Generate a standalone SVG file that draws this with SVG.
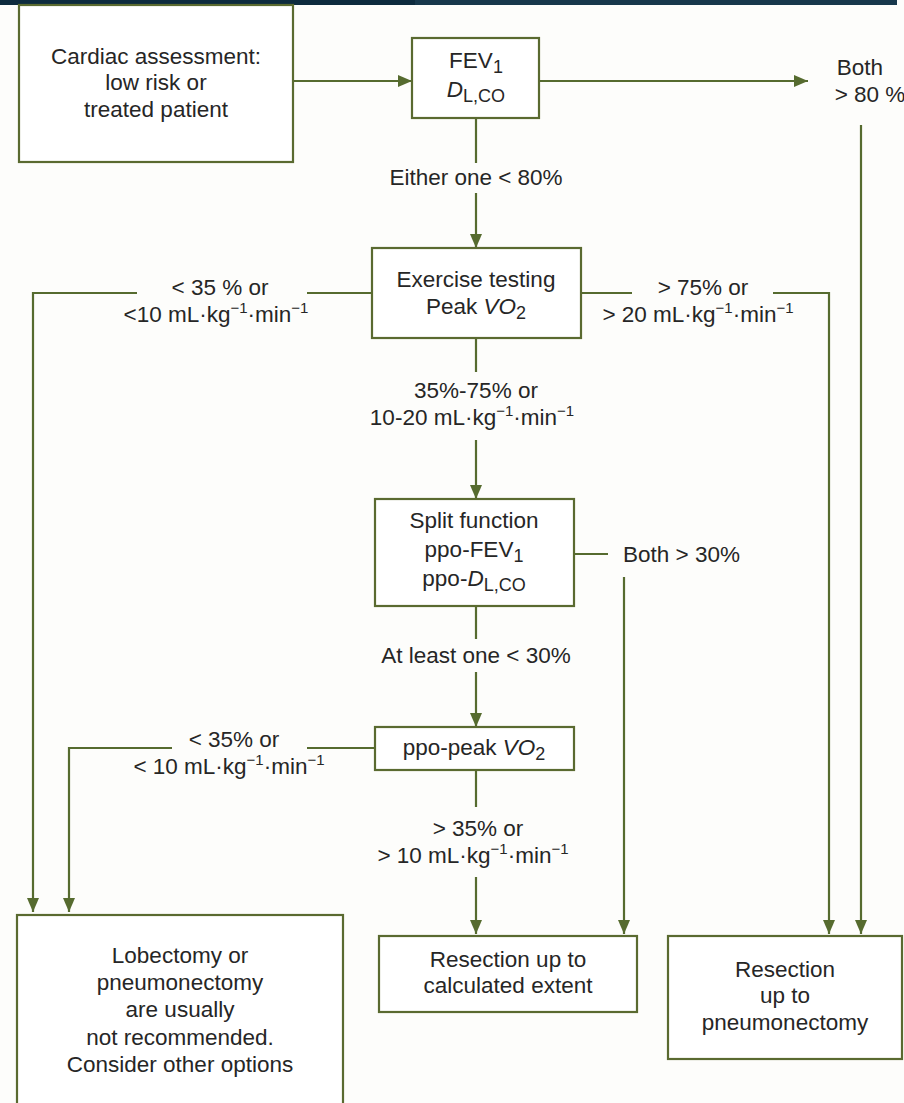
<svg xmlns="http://www.w3.org/2000/svg" width="904" height="1103" viewBox="0 0 904 1103">
<style>
.box{fill:#ffffff;stroke:#5a6a30;stroke-width:2.2}
.ln{fill:none;stroke:#566b2f;stroke-width:2.2}
.t{font-family:"Liberation Sans",Arial,Helvetica,sans-serif;font-size:22.5px;fill:#262626;text-anchor:middle}
.s{font-size:15px}
.b{font-size:18px}
.i{font-style:italic}
</style>
<defs>
<marker id="ah" viewBox="0 0 14 12" refX="14" refY="6" markerWidth="14" markerHeight="12" markerUnits="userSpaceOnUse" orient="auto">
<path d="M0,0 L14,6 L0,12 z" fill="#566b2f"/>
</marker>
</defs>
<rect x="0" y="0" width="904" height="1103" fill="#fdfdfb"/>
<rect x="0" y="0" width="415" height="5" fill="#0d2b3e"/>
<rect x="415" y="0" width="482" height="5" fill="#17384c"/>

<g id="connectors">
<line class="ln" x1="293" y1="81" x2="412" y2="81" marker-end="url(#ah)"/>
<line class="ln" x1="539" y1="81" x2="808" y2="81" marker-end="url(#ah)"/>
<line class="ln" x1="861" y1="125" x2="861" y2="934" marker-end="url(#ah)"/>
<line class="ln" x1="476" y1="118" x2="476" y2="163"/>
<line class="ln" x1="476" y1="193" x2="476" y2="248" marker-end="url(#ah)"/>
<line class="ln" x1="372" y1="293" x2="307" y2="293"/>
<polyline class="ln" points="137,293 33,293 33,912" marker-end="url(#ah)"/>
<line class="ln" x1="581" y1="293" x2="632" y2="293"/>
<polyline class="ln" points="773,293 829,293 829,934" marker-end="url(#ah)"/>
<line class="ln" x1="476" y1="338" x2="476" y2="372"/>
<line class="ln" x1="476" y1="440" x2="476" y2="499" marker-end="url(#ah)"/>
<line class="ln" x1="574" y1="554" x2="608" y2="554"/>
<line class="ln" x1="624" y1="577" x2="624" y2="934" marker-end="url(#ah)"/>
<line class="ln" x1="476" y1="606" x2="476" y2="639"/>
<line class="ln" x1="476" y1="672" x2="476" y2="727" marker-end="url(#ah)"/>
<line class="ln" x1="375" y1="748" x2="307" y2="748"/>
<polyline class="ln" points="172,748 69,748 69,912" marker-end="url(#ah)"/>
<line class="ln" x1="476" y1="770" x2="476" y2="807"/>
<line class="ln" x1="476" y1="877" x2="476" y2="934" marker-end="url(#ah)"/>
</g>

<g id="labels">
<text class="t" x="476" y="185">Either one &lt; 80%</text>
<text class="t" x="860" y="75">Both</text>
<text class="t" x="870" y="102">&gt; 80 %</text>
<text class="t" x="220" y="295">&lt; 35 % or</text>
<text class="t" x="216" y="322">&lt;10 mL·kg<tspan class="s" dy="-9">−1</tspan><tspan dy="9">·min</tspan><tspan class="s" dy="-9">−1</tspan></text>
<text class="t" x="703" y="295">&gt; 75% or</text>
<text class="t" x="698" y="322">&gt; 20 mL·kg<tspan class="s" dy="-9">−1</tspan><tspan dy="9">·min</tspan><tspan class="s" dy="-9">−1</tspan></text>
<text class="t" x="476" y="398">35%-75% or</text>
<text class="t" x="472" y="425">10-20 mL·kg<tspan class="s" dy="-9">−1</tspan><tspan dy="9">·min</tspan><tspan class="s" dy="-9">−1</tspan></text>
<text class="t" x="623" y="562" style="text-anchor:start">Both &gt; 30%</text>
<text class="t" x="476" y="663">At least one &lt; 30%</text>
<text class="t" x="234" y="747">&lt; 35% or</text>
<text class="t" x="229" y="774">&lt; 10 mL·kg<tspan class="s" dy="-9">−1</tspan><tspan dy="9">·min</tspan><tspan class="s" dy="-9">−1</tspan></text>
<text class="t" x="478" y="836">&gt; 35% or</text>
<text class="t" x="473" y="863">&gt; 10 mL·kg<tspan class="s" dy="-9">−1</tspan><tspan dy="9">·min</tspan><tspan class="s" dy="-9">−1</tspan></text>
</g>

<g id="cardiac">
<rect class="box" x="19" y="5" width="274" height="157"/>
<text class="t" x="156" y="64">Cardiac assessment:</text>
<text class="t" x="156" y="90">low risk or</text>
<text class="t" x="156" y="117">treated patient</text>
</g>

<g id="fev">
<rect class="box" x="412" y="38" width="127" height="80"/>
<text class="t" x="476" y="68">FEV<tspan class="b" dy="5">1</tspan></text>
<text class="t" x="476" y="97"><tspan class="i">D</tspan><tspan class="b" dy="5">L,CO</tspan></text>
</g>

<g id="exercise">
<rect class="box" x="372" y="248" width="209" height="90"/>
<text class="t" x="476" y="287">Exercise testing</text>
<text class="t" x="476" y="314">Peak <tspan class="i">VO</tspan><tspan class="b" dy="5">2</tspan></text>
</g>

<g id="split">
<rect class="box" x="375" y="499" width="199" height="107"/>
<text class="t" x="474" y="528">Split function</text>
<text class="t" x="474" y="557">ppo-FEV<tspan class="b" dy="5">1</tspan></text>
<text class="t" x="474" y="586">ppo-<tspan class="i">D</tspan><tspan class="b" dy="5">L,CO</tspan></text>
</g>

<g id="ppo-peak">
<rect class="box" x="375" y="727" width="199" height="43"/>
<text class="t" x="474" y="755">ppo-peak <tspan class="i">VO</tspan><tspan class="b" dy="5">2</tspan></text>
</g>

<g id="lobectomy">
<rect class="box" x="17" y="915" width="326" height="200"/>
<text class="t" x="180" y="963">Lobectomy or</text>
<text class="t" x="180" y="990">pneumonectomy</text>
<text class="t" x="180" y="1017">are usually</text>
<text class="t" x="180" y="1045">not recommended.</text>
<text class="t" x="180" y="1072">Consider other options</text>
</g>

<g id="calculated">
<rect class="box" x="379" y="936" width="258" height="76"/>
<text class="t" x="508" y="967">Resection up to</text>
<text class="t" x="508" y="993">calculated extent</text>
</g>

<g id="pneumonectomy">
<rect class="box" x="668" y="936" width="234" height="123"/>
<text class="t" x="785" y="977">Resection</text>
<text class="t" x="785" y="1003">up to</text>
<text class="t" x="785" y="1030">pneumonectomy</text>
</g>
</svg>
